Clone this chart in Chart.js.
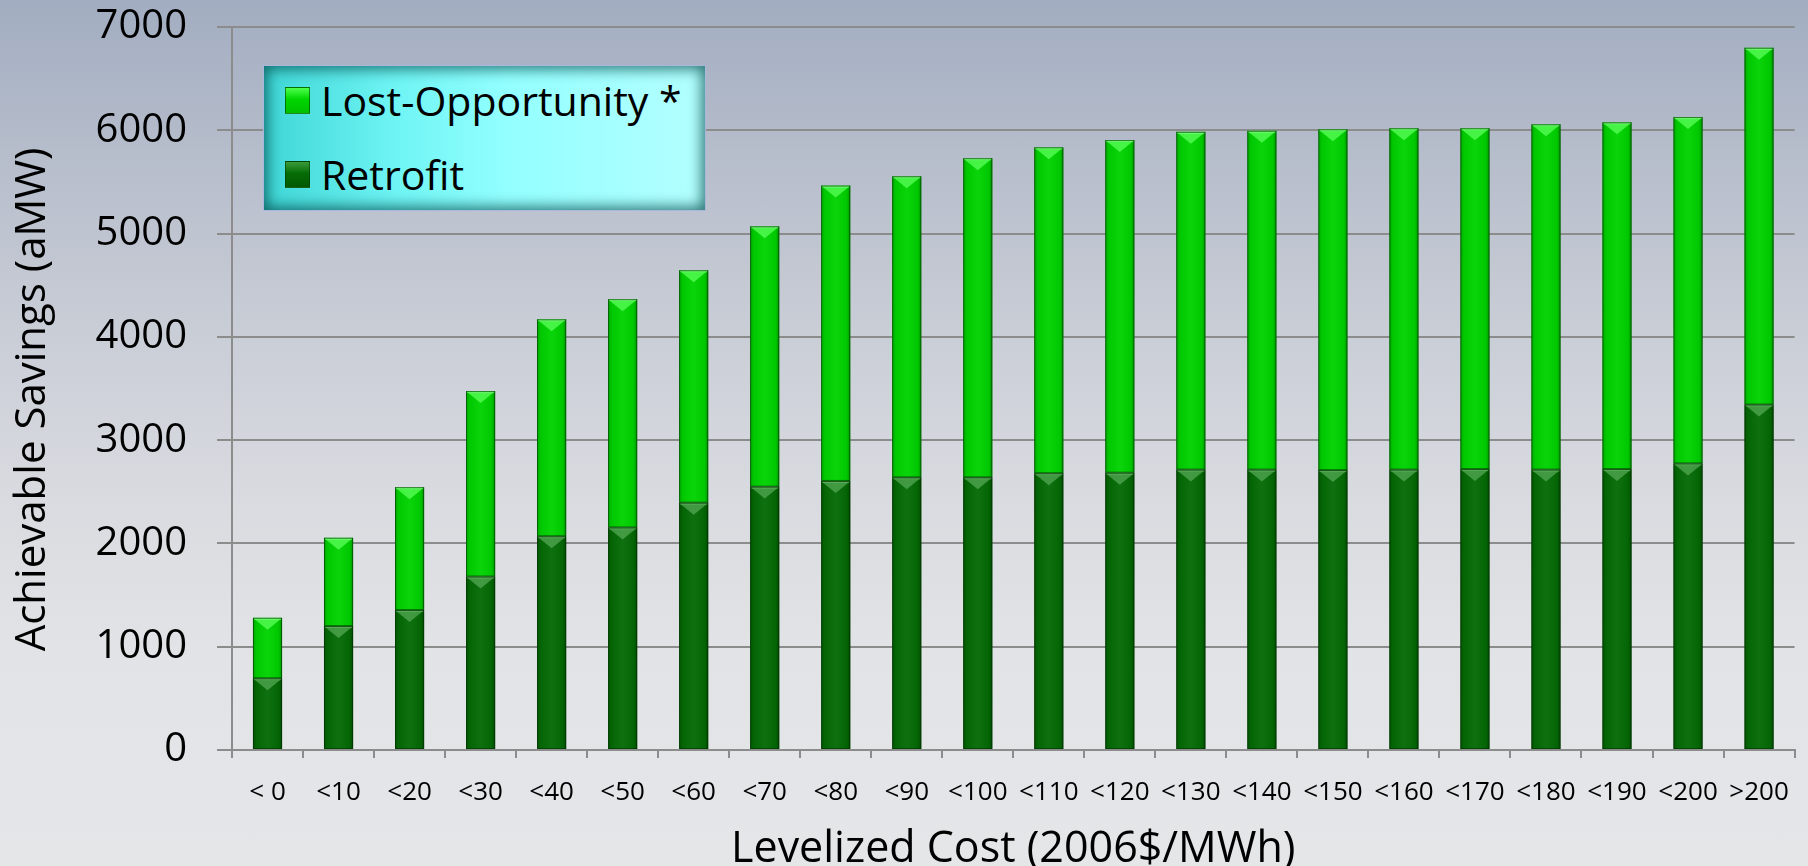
<!DOCTYPE html>
<html>
<head>
<meta charset="utf-8">
<script src="https://cdn.jsdelivr.net/npm/chart.js@4.4.1/dist/chart.umd.min.js"></script>
<style>
  html, body { margin: 0; padding: 0; }
  body { width: 1808px; height: 866px; overflow: hidden;
    background: linear-gradient(to bottom, #a2adc1 0%, #b6bdcb 18%, #c9cdd6 38%, #d9dbe0 58%, #e2e3e6 75%, #e5e6e8 100%); }
  #wrap { position: relative; width: 1808px; height: 866px; }
  canvas { position: absolute; left: 0; top: 0; }
  #legend { position: absolute; left: 263px; top: 65px; width: 441px; height: 144px;
    background: linear-gradient(to right, #3fd6d6 0%, #6ff4f4 30%, #93ffff 55%, #b4ffff 100%);
    box-shadow: inset 0 0 14px 3px rgba(0,70,70,0.75); border: 1px solid #a9b6de;
    font-family: "Open Sans", sans-serif; font-size: 41px; color: #000; }
  .item { position: absolute; left: 21px; display: flex; align-items: center; height: 50px; }
  .sw { width: 25px; height: 27px; margin-right: 11px; border: 1px solid rgba(0,60,0,0.6); box-sizing: border-box; }
</style>
</head>
<body>
<div id="wrap">
  <canvas id="c" width="1808" height="866"></canvas>
  <div id="legend">
    <div class="item" style="top:9px"><div class="sw" id="sw0"></div><span id="lg0"></span></div>
    <div class="item" style="top:83px"><div class="sw" id="sw1"></div><span id="lg1"></span></div>
  </div>
</div>
<script>
const categories = ["< 0","<10","<20","<30","<40","<50","<60","<70","<80","<90","<100","<110","<120","<130","<140","<150","<160","<170","<180","<190","<200",">200"];
const retrofit = [695,1200,1355,1680,2070,2155,2395,2550,2605,2640,2640,2680,2685,2715,2715,2710,2715,2720,2715,2720,2775,3345];
const lostOpportunity = [585,855,1190,1795,2100,2210,2250,2520,2860,2915,3090,3155,3220,3270,3280,3300,3305,3300,3343,3357,3353,3454];
const yTicks = [0,1000,2000,3000,4000,5000,6000,7000];
const seriesNames = ["Lost-Opportunity *","Retrofit"];

const LOST = "#00d200", RETRO = "#046a04";
document.getElementById("lg0").textContent = seriesNames[0];
document.getElementById("lg1").textContent = seriesNames[1];
document.getElementById("sw0").style.background = "linear-gradient(to bottom, #4dff4d 0%, #00d600 45%, #00c000 100%)";
document.getElementById("sw1").style.background = "linear-gradient(to bottom, #3c9a3c 0%, #056d05 45%, #035803 100%)";

const bevel = {
  id: "bevel",
  afterDatasetsDraw(chart) {
    const ctx = chart.ctx;
    chart.data.datasets.forEach((ds, di) => {
      const meta = chart.getDatasetMeta(di);
      meta.data.forEach(el => {
        const p = el.getProps(["x","y","base","width"], true);
        const l = p.x - p.width/2, r = p.x + p.width/2;
        const top = Math.min(p.y, p.base), bot = Math.max(p.y, p.base);
        ctx.save();
        const g = ctx.createLinearGradient(l, 0, r, 0);
        g.addColorStop(0, "rgba(0,0,0,0.22)");
        g.addColorStop(0.12, "rgba(0,0,0,0.05)");
        g.addColorStop(0.5, "rgba(255,255,255,0.04)");
        g.addColorStop(0.88, "rgba(0,0,0,0.05)");
        g.addColorStop(1, "rgba(0,0,0,0.3)");
        ctx.fillStyle = g;
        ctx.fillRect(l, top, p.width, bot - top);
        const th = Math.min(12, (bot - top) / 2);
        ctx.beginPath();
        ctx.moveTo(l + 1, top + 1);
        ctx.lineTo(r - 1, top + 1);
        ctx.lineTo(p.x, top + th);
        ctx.closePath();
        const isLost = ds.label === seriesNames[0];
        ctx.fillStyle = isLost ? "rgba(90,255,90,0.75)" : "rgba(110,190,110,0.55)";
        ctx.fill();
        ctx.fillStyle = isLost ? "rgba(140,255,140,0.6)" : "rgba(120,200,120,0.45)";
        ctx.fillRect(l + 1, top, p.width - 2, 2);
        ctx.strokeStyle = "rgba(0,40,0,0.55)";
        ctx.lineWidth = 1;
        ctx.strokeRect(l + 0.5, top + 0.5, p.width - 1, bot - top - 1);
        ctx.restore();
      });
    });
  }
};

new Chart(document.getElementById("c"), {
  type: "bar",
  data: {
    labels: categories,
    datasets: [
      { label: seriesNames[1], data: retrofit, backgroundColor: RETRO, borderWidth: 0 },
      { label: seriesNames[0], data: lostOpportunity, backgroundColor: LOST, borderWidth: 0 }
    ]
  },
  options: {
    responsive: false,
    animation: false,
    layout: { padding: { left: 0, right: 10, top: 27, bottom: 0 } },
    plugins: { legend: { display: false }, tooltip: { enabled: false } },
    datasets: { bar: { categoryPercentage: 1.0, barPercentage: 0.41 } },
    scales: {
      x: {
        stacked: true,
        afterFit(s) { s.height = 116; },
        grid: { drawOnChartArea: false, drawTicks: true, tickLength: 8, offset: true, color: "#8c8c8c", lineWidth: 2 },
        border: { color: "#8c8c8c", width: 2 },
        ticks: { color: "#000", font: { family: "Open Sans", size: 26 }, padding: 19, maxRotation: 0, autoSkip: false },
        title: { display: true, text: "Levelized Cost (2006$/MWh)", color: "#000", font: { family: "Open Sans", size: 43 }, padding: { top: 10, bottom: -10 } }
      },
      y: {
        stacked: true,
        min: 0, max: 7000,
        afterFit(s) { s.width = 232; s.paddingTop = 0; s.paddingBottom = 0; },
        afterBuildTicks(s) { s.ticks = yTicks.map(v => ({ value: v })); },
        grid: { color: "#8c8c8c", lineWidth: 2, tickLength: 15, drawTicks: true },
        border: { color: "#8c8c8c", width: 2 },
        ticks: { color: "#000", font: { family: "Open Sans", size: 40 }, padding: 30, callback: v => String(v) },
        title: { display: true, text: "Achievable Savings (aMW)  ", color: "#000", font: { family: "Open Sans", size: 42 }, padding: { top: 8, bottom: 0 } }
      }
    }
  },
  plugins: [bevel]
});
</script>
</body>
</html>
